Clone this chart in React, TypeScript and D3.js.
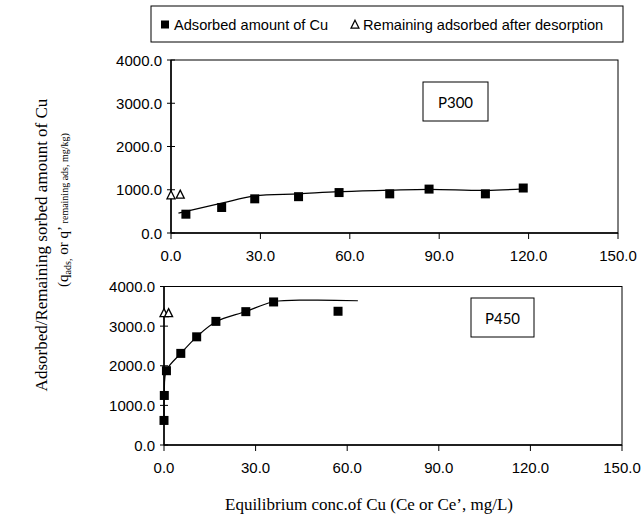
import * as d3 from "d3";
import React from "react";

// P300 panel
const p300AdsX = [5.0, 17.0, 28.1, 42.8, 56.4, 73.4, 86.6, 105.5, 118.2];
const p300AdsY = [435, 590, 790, 840, 935, 905, 1015, 905, 1040];
const p300DesX = [0.0, 3.1];
const p300DesY = [865, 880];
const p300FitX = [2.5, 17.0, 28.1, 42.8, 56.4, 73.4, 86.6, 105.5, 118.2];
const p300FitY = [460, 690, 858, 905, 955, 990, 1010, 985, 1020];

// P450 panel
const p450AdsX = [0.0, 0.1, 0.8, 5.5, 10.7, 17.0, 26.8, 35.9, 57.0];
const p450AdsY = [620, 1250, 1875, 2312, 2730, 3120, 3365, 3610, 3375];
const p450DesX = [0.0, 1.5];
const p450DesY = [3320, 3320];
const p450FitX = [0.0, 0.1, 0.8, 5.5, 10.7, 17.0, 26.8, 35.9, 48.0, 63.5];
const p450FitY = [600, 1250, 1880, 2310, 2730, 3110, 3370, 3615, 3655, 3640];

const xTicks = [0, 30, 60, 90, 120, 150];
const yTicks = [0, 1000, 2000, 3000, 4000];

const legendLabels = ["Adsorbed amount of Cu", "Remaining adsorbed after desorption"];

const tickFont = "'Liberation Sans', Arial, sans-serif";
const serif = "'Liberation Serif', 'Times New Roman', serif";

const zip = (xs, ys) => xs.map((x, i) => [x, ys[i]]);

const tri = (cx, cy, s) =>
    `M${cx},${cy - s * 0.6}L${cx + s / 2},${cy + s * 0.4}L${cx - s / 2},${cy + s * 0.4}Z`;

const Panel = ({x0, x1, yTop, yBot, ads, des, fit, label, box}) => {
    const x = d3.scaleLinear().domain([0, 150]).range([x0, x1]);
    const y = d3.scaleLinear().domain([0, 4000]).range([yBot, yTop]);
    const line = d3.line()
        .x(d => x(d[0]))
        .y(d => y(d[1]))
        .curve(d3.curveCatmullRom.alpha(0.5));

    return (
        <g>
            {/* frame */}
            <rect x={x0} y={yTop} width={x1 - x0} height={yBot - yTop} fill="none" stroke="#000" strokeWidth={1}/>
            <line x1={x0} x2={x0} y1={yTop} y2={yBot} stroke="#000" strokeWidth={1.5}/>
            <line x1={x0} x2={x1} y1={yBot} y2={yBot} stroke="#000" strokeWidth={1.5}/>
            {xTicks.map(t => (
                <g key={"x" + t}>
                    <line x1={x(t)} x2={x(t)} y1={yBot} y2={yBot + 6} stroke="#000"/>
                    <text x={x(t)} y={yBot + 22} textAnchor="middle" dominantBaseline="central"
                          fontFamily={tickFont} fontSize={15}>{t.toFixed(1)}</text>
                </g>
            ))}
            {yTicks.map(t => (
                <g key={"y" + t}>
                    <line x1={x0 - 4} x2={x0 + 4} y1={y(t)} y2={y(t)} stroke="#000"/>
                    <text x={x0 - 9} y={y(t)} textAnchor="end" dominantBaseline="central"
                          fontFamily={tickFont} fontSize={15}>{t.toFixed(1)}</text>
                </g>
            ))}
            <path d={line(fit)} fill="none" stroke="#000" strokeWidth={1.2}/>
            {ads.map((d, i) => (
                <rect key={"a" + i} x={x(d[0]) - 4.5} y={y(d[1]) - 4.5} width={9} height={9} fill="#000"/>
            ))}
            {des.map((d, i) => (
                <path key={"d" + i} d={tri(x(d[0]), y(d[1]), 8)} fill="#fff" stroke="#000" strokeWidth={1.3}/>
            ))}
            <rect x={box[0]} y={box[1]} width={box[2]} height={box[3]} fill="#fff" stroke="#000" strokeWidth={1}/>
            <text x={box[0] + box[2] / 2} y={box[1] + box[3] / 2} textAnchor="middle" dominantBaseline="central"
                  fontFamily="Lato, 'Open Sans', sans-serif" fontSize={15}>{label}</text>
        </g>
    );
};

export default function App() {
    return (
        <svg width={641} height={520} style={{position: "absolute", left: 0, top: 0, background: "#fff"}}>
            {/* legend */}
            <rect x={151} y={6} width={472} height={36} fill="#fff" stroke="#000" strokeWidth={1}/>
            <rect x={161} y={20.5} width={8} height={8} fill="#000"/>
            <text x={174} y={25} dominantBaseline="central" fontFamily={tickFont} fontSize={14.6}>{legendLabels[0]}</text>
            <path d={tri(355, 25, 8)} fill="#fff" stroke="#000" strokeWidth={1.2}/>
            <text x={363} y={25} dominantBaseline="central" fontFamily={tickFont} fontSize={14.6}>{legendLabels[1]}</text>

            <Panel x0={171} x1={618} yTop={60} yBot={233}
                   ads={zip(p300AdsX, p300AdsY)} des={zip(p300DesX, p300DesY)} fit={zip(p300FitX, p300FitY)}
                   label="P300" box={[423, 82, 65, 39]}/>
            <Panel x0={164} x1={622} yTop={286.5} yBot={445}
                   ads={zip(p450AdsX, p450AdsY)} des={zip(p450DesX, p450DesY)} fit={zip(p450FitX, p450FitY)}
                   label="P450" box={[471, 298, 63, 39]}/>

            {/* y title */}
            <text transform="translate(47,245) rotate(-90)" textAnchor="middle" fontFamily={serif} fontSize={17}>
                Adsorbed/Remaining sorbed amount of Cu
            </text>
            <text transform="translate(68,210) rotate(-90)" textAnchor="middle" fontFamily={serif} fontSize={15}>
                (q<tspan fontSize={10} dy={3}>ads,</tspan>
                <tspan dy={-3}> or q’ </tspan>
                <tspan fontSize={10}>remaining ads, mg/kg)</tspan>
            </text>

            {/* x title */}
            <text x={369} y={510} textAnchor="middle" fontFamily={serif} fontSize={17}>
                Equilibrium conc.of Cu (Ce or Ce’, mg/L)
            </text>
        </svg>
    );
}
